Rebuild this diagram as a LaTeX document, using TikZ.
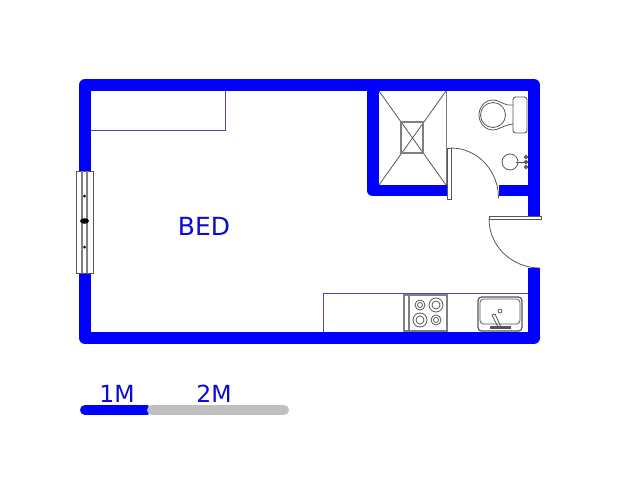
\documentclass[tikz,border=0pt]{standalone}
\usepackage{fontspec}
\setmainfont{DejaVu Sans}
\definecolor{wallblue}{RGB}{0,0,255}
\definecolor{textblue}{RGB}{10,10,215}
\definecolor{thinblue}{RGB}{80,70,170}
\definecolor{bargrey}{RGB}{192,192,192}
\definecolor{fitgrey}{RGB}{85,85,85}
\tikzset{
  wall/.style={wallblue,line width=0.24cm,line join=round},
  thin line/.style={thinblue,line width=0.4pt},
  fitting/.style={fitgrey,line width=0.45pt},
  door leaf/.style={draw=fitgrey,fill=white,line width=0.5pt},
  room text/.style={textblue,font=\fontsize{14.2}{16}\selectfont},
  scale text/.style={textblue,font=\fontsize{13.4}{15}\selectfont}
}
\begin{document}
\begin{tikzpicture}[x=0.02cm,y=-0.02cm]
    \useasboundingbox (0,0) rectangle (640,480);
    % walls
    \draw [wall] (85,172)--(85,85)--(534,85)--(534,216);
    \draw [wall] (534,268)--(534,338)--(85,338)--(85,272);
    \draw [wall] (373,91)--(373,190.5)--(447,190.5);
    \draw [wall] (498.5,190.5)--(528,190.5);
    % window
    \draw [door leaf] (76,171) rectangle (93,273);
    \draw [gray,line width=1.2pt] (82,171)--(82,273);
    \draw [gray,line width=1.2pt] (87,171)--(87,273);
    \fill [black] (84.5,196) circle [radius=1.5];
    \fill [black] (84.5,247) circle [radius=1.5];
    \fill [black] (84.5,221) ellipse [x radius=4.5,y radius=2.8];
    % cupboard
    \draw [thin line] (91,130)--(225,130)--(225,91);
    % shower
    \draw [gray,line width=1pt] (446.5,91)--(446.5,185);
    \draw [fitting] (379,91)--(446,185);
    \draw [fitting] (446,91)--(379,185);
    \draw [gray,line width=0.8pt] (401,122) rectangle (423,153);
    % bathroom door
    \draw [door leaf] (447,148) rectangle (451,199);
    \draw [fitting] (451,148) arc [start angle=-90,end angle=0,x radius=47.5,y radius=50];
    % toilet
    \draw [door leaf,rounded corners=1.5] (513,97) rectangle (527,133);
    \draw [fitting] (513,105)--(508,105) .. controls (503,104) and (498,100) .. (493,100)
      .. controls (485,100) and (479,107) .. (479,115) .. controls (479,123) and (485,130) .. (493,130)
      .. controls (498,130) and (503,126) .. (508,125)--(513,124);
    \draw [fitting] (493,115) ellipse [x radius=12.5,y radius=12.5];
    % basin
    \draw [fitting] (510,162) circle [radius=8];
    \draw [fitting] (516,162)--(526,162);
    \draw [fitting,line width=0.8pt] (526,157) circle [radius=1.5];
    \draw [fitting,line width=0.8pt] (526,162) circle [radius=1.5];
    \draw [fitting,line width=0.8pt] (526,167) circle [radius=1.5];
    % entrance door
    \draw [door leaf] (489,216) rectangle (541,219);
    \draw [fitting] (489,219) arc [start angle=180,end angle=90,x radius=51,y radius=49];
    % kitchen counter
    \draw [thin line] (323,332)--(323,293)--(528,293);
    % stove
    \draw [gray,line width=0.7pt] (404,295) rectangle (447,331);
    \draw [gray,line width=0.7pt] (409,295)--(409,331);
    \draw [fitting] (420,305) circle [radius=5];
    \draw [fitting] (420,305) circle [radius=2.5];
    \draw [fitting] (436,305) circle [radius=7];
    \draw [fitting] (436,305) circle [radius=4];
    \draw [fitting] (420,320) circle [radius=7];
    \draw [fitting] (420,320) circle [radius=4];
    \draw [fitting] (436,320) circle [radius=5];
    \draw [fitting] (436,320) circle [radius=2.5];
    % sink
    \draw [fitting,rounded corners=2,line width=0.7pt] (478,297) rectangle (522,331);
    \draw [fitting,rounded corners=2] (480,299) rectangle (520,324);
    \draw [fitting] (500,311) circle [radius=2];
    \draw [fitting] (492,315)--(498,327)--(501,327)--(495,314)--cycle;
    \fill [fitgrey] (490,326) rectangle (511,329);
    % labels
    \node [room text] (bed) at (204,226) {BED};
    \node [scale text] (onem) at (117,394) {1M};
    \node [scale text] (twom) at (214,394) {2M};
    % scale bar
    \draw [wallblue,line width=0.2cm,line cap=round] (85,410)--(147,410);
    \draw [bargrey,line width=0.2cm,line cap=round] (152,410)--(284,410);
  \end{tikzpicture}
\end{document}
